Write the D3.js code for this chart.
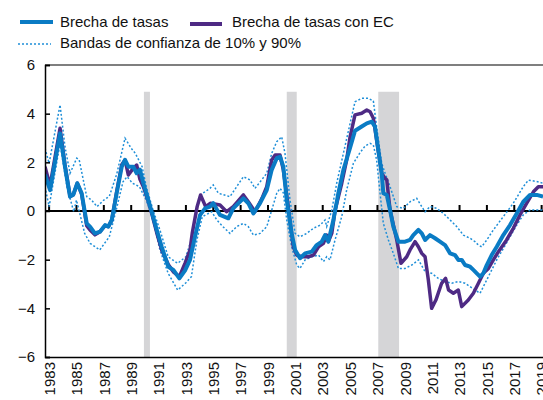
<!DOCTYPE html>
<html>
<head>
<meta charset="utf-8">
<script src="https://cdn.jsdelivr.net/npm/d3@7"></script>
<style>
  body { margin: 0; background: #fff; }
  text { font-family: "Liberation Sans", Arial, sans-serif; }
</style>
</head>
<body>
<div id="chart"></div>
<script>
// [year, value] pairs
let brecha = [[1982.7,1.5],[1983.07,0.86],[1983.8,3.19],[1984.16,1.82],[1984.53,0.59],[1984.77,0.67],[1985.06,1.14],[1985.38,0.73],[1985.75,-0.51],[1985.99,-0.64],[1986.35,-0.92],[1986.72,-0.85],[1987.09,-0.58],[1987.33,-0.64],[1987.58,-0.37],[1987.94,0.73],[1988.31,1.82],[1988.55,2.1],[1988.79,1.82],[1989.15,1.82],[1989.4,1.55],[1989.64,1.7],[1989.89,1.14],[1990.25,0.45],[1990.5,-0.03],[1990.87,-0.78],[1991.23,-1.47],[1991.71,-2.29],[1992.08,-2.42],[1992.52,-2.77],[1992.93,-2.45],[1993.3,-2.01],[1993.66,-1.06],[1994.03,-0.17],[1994.4,0.11],[1994.76,0.18],[1995.0,0.32],[1995.49,-0.16],[1996.1,-0.3],[1996.46,0.11],[1997.2,0.52],[1997.56,0.32],[1997.93,-0.1],[1998.42,0.32],[1998.91,0.86],[1999.27,1.69],[1999.64,2.17],[1999.88,2.23],[2000.12,1.82],[2000.37,0.45],[2000.73,-0.92],[2000.98,-1.6],[2001.34,-1.94],[2001.71,-1.74],[2002.2,-1.67],[2002.56,-1.4],[2002.93,-1.26],[2003.17,-0.99],[2003.41,-1.26],[2003.78,-0.37],[2004.14,0.73],[2004.51,1.69],[2005.0,2.6],[2005.36,3.3],[2005.85,3.47],[2006.22,3.6],[2006.58,3.67],[2006.82,3.47],[2007.06,2.5],[2007.31,1.55],[2007.43,0.73],[2007.68,0.66],[2007.92,0.04],[2008.16,-0.64],[2008.53,-1.26],[2009.02,-1.26],[2009.38,-1.19],[2009.62,-0.99],[2009.99,-0.78],[2010.24,-0.92],[2010.48,-1.19],[2010.84,-0.99],[2011.21,-1.12],[2011.57,-1.26],[2011.94,-1.4],[2012.31,-1.74],[2012.67,-1.81],[2012.91,-2.01],[2013.16,-2.01],[2013.4,-2.22],[2013.77,-2.29],[2014.01,-2.42],[2014.26,-2.56],[2014.5,-2.7],[2014.74,-2.56],[2014.99,-2.22],[2015.35,-1.81],[2015.72,-1.47],[2016.2,-0.99],[2016.69,-0.58],[2017.18,-0.1],[2017.66,0.38],[2018.15,0.66],[2018.64,0.66],[2019.1,0.59]];

let brechaEC = [[1982.7,1.82],[1983.07,1.04],[1983.8,3.4],[1984.16,1.9],[1984.53,0.6],[1984.77,0.67],[1985.06,1.14],[1985.38,0.7],[1985.75,-0.6],[1985.99,-0.78],[1986.35,-0.98],[1986.72,-0.85],[1987.09,-0.6],[1987.33,-0.64],[1987.58,-0.37],[1987.94,0.8],[1988.31,1.9],[1988.55,2.1],[1988.79,1.48],[1989.15,1.75],[1989.4,1.89],[1989.64,1.3],[1989.89,1.0],[1990.25,0.4],[1990.5,-0.1],[1990.87,-0.9],[1991.23,-1.6],[1991.71,-2.2],[1992.08,-2.5],[1992.52,-2.7],[1992.93,-2.15],[1993.3,-1.6],[1993.46,-0.92],[1993.82,0.18],[1994.07,0.66],[1994.44,0.18],[1994.8,0.32],[1995.49,0.25],[1995.98,-0.03],[1996.46,0.18],[1997.2,0.66],[1997.56,0.38],[1998.05,-0.03],[1998.56,0.52],[1998.91,1.0],[1999.27,2.1],[1999.52,2.3],[1999.88,2.3],[2000.12,1.69],[2000.48,0.18],[2000.85,-1.47],[2001.1,-1.81],[2001.46,-1.88],[2001.95,-1.88],[2002.32,-1.81],[2002.69,-1.47],[2003.05,-1.33],[2003.29,-0.99],[2003.41,-1.26],[2003.66,-0.92],[2003.9,0.03],[2004.39,1.14],[2004.75,2.1],[2005.0,3.05],[2005.36,3.95],[2005.85,4.02],[2006.22,4.15],[2006.46,4.08],[2006.7,3.81],[2006.94,2.92],[2007.31,1.55],[2007.56,1.34],[2007.68,1.28],[2007.92,0.04],[2008.41,-1.19],[2008.72,-2.15],[2009.14,-1.88],[2009.38,-1.6],[2009.75,-1.26],[2009.99,-1.47],[2010.24,-1.74],[2010.48,-1.88],[2010.72,-2.84],[2010.96,-4.0],[2011.27,-3.66],[2011.69,-2.97],[2011.98,-2.77],[2012.2,-3.25],[2012.55,-3.38],[2012.91,-3.25],[2013.16,-3.93],[2013.64,-3.66],[2014.01,-3.38],[2014.38,-2.97],[2014.74,-2.56],[2015.11,-2.36],[2015.47,-2.01],[2015.84,-1.67],[2016.44,-1.19],[2016.93,-0.71],[2017.42,-0.16],[2017.91,0.32],[2018.4,0.79],[2018.76,1.0],[2019.1,1.0]];

let bandaSup = [[1982.7,2.58],[1983.0,1.96],[1983.8,4.36],[1984.16,2.64],[1984.53,1.55],[1985.02,2.17],[1985.2,2.1],[1985.75,0.59],[1986.1,0.45],[1986.5,0.18],[1987.0,0.45],[1987.4,0.6],[1987.94,1.51],[1988.55,2.99],[1989.0,2.58],[1989.3,2.37],[1989.8,1.82],[1990.1,1.0],[1990.6,0.03],[1991.1,-0.78],[1991.7,-1.88],[1992.4,-2.15],[1993.0,-1.88],[1993.46,-1.06],[1993.8,0.1],[1994.15,0.7],[1994.4,0.79],[1994.76,0.93],[1995.0,1.07],[1995.37,0.73],[1996.22,0.59],[1996.71,1.0],[1997.2,1.41],[1997.68,1.28],[1998.05,0.93],[1998.54,1.28],[1998.91,1.55],[1999.27,2.37],[1999.64,2.85],[2000.0,3.05],[2000.24,2.37],[2000.61,0.45],[2000.98,-0.92],[2001.34,-1.06],[2001.83,-0.92],[2002.32,-0.71],[2002.81,-0.58],[2003.17,-0.37],[2003.29,-0.64],[2003.66,0.03],[2004.02,1.14],[2004.51,2.37],[2005.0,3.6],[2005.36,4.49],[2005.85,4.63],[2006.34,4.63],[2006.7,4.52],[2006.94,3.47],[2007.31,1.96],[2007.56,1.55],[2007.92,1.0],[2008.41,0.18],[2008.9,0.11],[2009.38,0.38],[2009.87,0.52],[2010.24,0.18],[2010.48,-0.03],[2010.84,0.18],[2011.33,0.11],[2011.82,-0.1],[2012.31,-0.37],[2012.79,-0.64],[2013.28,-0.99],[2013.77,-1.12],[2014.13,-1.26],[2014.38,-1.4],[2014.62,-1.47],[2014.99,-1.19],[2015.47,-0.78],[2016.2,-0.23],[2016.93,0.32],[2017.66,1.0],[2018.03,1.27],[2018.64,1.21],[2019.1,1.14]];

let bandaInf = [[1982.7,1.0],[1983.0,0.18],[1983.8,2.78],[1984.3,1.0],[1984.8,-0.03],[1985.0,0.45],[1985.6,-0.92],[1986.0,-1.33],[1986.7,-1.6],[1987.4,-1.06],[1987.9,0.03],[1988.4,1.2],[1988.7,1.41],[1989.1,1.14],[1989.6,1.0],[1990.1,0.45],[1990.6,-0.37],[1991.1,-1.6],[1991.7,-2.56],[1992.4,-3.25],[1993.0,-2.95],[1993.4,-2.7],[1993.8,-1.2],[1994.2,-0.23],[1994.89,-0.03],[1995.26,-0.37],[1995.7,-0.64],[1996.22,-0.92],[1996.71,-0.64],[1997.2,-0.51],[1997.56,-0.64],[1997.93,-0.99],[1998.42,-0.92],[1998.91,-0.64],[1999.27,0.03],[1999.64,0.73],[1999.88,0.93],[2000.12,0.75],[2000.37,-0.37],[2000.73,-1.47],[2001.1,-2.22],[2001.34,-2.36],[2001.71,-2.01],[2002.2,-1.88],[2002.69,-1.81],[2003.05,-2.08],[2003.29,-1.88],[2003.53,-2.01],[2003.9,-1.19],[2004.39,-0.23],[2004.75,0.86],[2005.24,1.96],[2005.73,2.4],[2006.1,2.67],[2006.46,2.78],[2006.7,2.71],[2006.94,2.1],[2007.19,0.73],[2007.43,-0.51],[2007.8,-1.19],[2008.16,-1.74],[2008.53,-2.36],[2009.02,-2.36],[2009.51,-2.22],[2010.0,-2.01],[2010.48,-2.49],[2010.96,-2.56],[2011.45,-2.77],[2011.94,-2.9],[2012.43,-2.97],[2012.91,-2.9],[2013.4,-2.97],[2013.77,-3.11],[2014.13,-3.25],[2014.5,-3.38],[2014.74,-3.11],[2015.23,-2.56],[2015.72,-2.01],[2016.2,-1.54],[2016.69,-1.06],[2017.18,-0.58],[2017.66,-0.16],[2018.15,0.04],[2019.1,0.04]];

let recesiones = [[1989.93, 1990.37], [2000.37, 2001.1], [2007.06, 2008.58]];
let anios = d3.range(1983, 2020, 2);
let yTicks = [-6, -4, -2, 0, 2, 4, 6];

let width = 543, height = 400;
let svg = d3.select('#chart').append('svg').attr('width', width).attr('height', height);

let x = d3.scaleLinear().domain([1982.7, 2019.1]).range([45, 543]);
let y = d3.scaleLinear().domain([-6, 6]).range([357, 65]);

// recession shading
svg.selectAll('rect.rec').data(recesiones).enter().append('rect')
  .attr('x', d => x(d[0]))
  .attr('width', d => x(d[1]) - x(d[0]))
  .attr('y', y(4.9))
  .attr('height', y(-6) - y(4.9))
  .attr('fill', '#d5d5d7');

// frame top
svg.append('line').attr('x1', 45).attr('x2', 543).attr('y1', y(6)).attr('y2', y(6))
  .attr('stroke', '#555').attr('stroke-width', 1.5);

// zero line with ticks
svg.append('line').attr('x1', 45).attr('x2', 543).attr('y1', y(0)).attr('y2', y(0))
  .attr('stroke', '#000').attr('stroke-width', 2);
svg.selectAll('line.zt').data(anios).enter().append('line')
  .attr('x1', d => x(d)).attr('x2', d => x(d))
  .attr('y1', y(0)).attr('y2', y(0) - 6)
  .attr('stroke', '#000').attr('stroke-width', 2);

let line = d3.line().x(d => x(d[0])).y(d => y(d[1]));

let clip = svg.append('clipPath').attr('id', 'clip').append('rect')
  .attr('x', 45).attr('y', 0).attr('width', 498).attr('height', 400);

let g = svg.append('g').attr('clip-path', 'url(#clip)');

[bandaSup, bandaInf].forEach(s => {
  g.append('path').datum(s).attr('d', line)
    .attr('fill', 'none').attr('stroke', '#1f8fd8').attr('stroke-width', 1.5)
    .attr('stroke-dasharray', '2,2');
});

g.append('path').datum(brechaEC).attr('d', line)
  .attr('fill', 'none').attr('stroke', '#4e2a84').attr('stroke-width', 3.5)
  .attr('stroke-linejoin', 'round');

g.append('path').datum(brecha).attr('d', line)
  .attr('fill', 'none').attr('stroke', '#0a7bc4').attr('stroke-width', 4)
  .attr('stroke-linejoin', 'round');

// y axis
let yAxis = svg.append('g').attr('transform', 'translate(45,0)')
  .call(d3.axisLeft(y).tickValues(yTicks).tickSize(-5).tickPadding(10));
yAxis.select('.domain').attr('stroke', '#000').attr('stroke-width', 1.5);
yAxis.selectAll('.tick line').attr('stroke', '#000').attr('stroke-width', 1.5);
yAxis.selectAll('text').attr('font-size', 15).attr('fill', '#111')
  .style('font-family', '"Liberation Sans", Arial, sans-serif');

// x axis
let xAxis = svg.append('g').attr('transform', 'translate(0,357)')
  .call(d3.axisBottom(x).tickValues(anios).tickSize(0).tickFormat(d3.format('d')));
xAxis.select('.domain').attr('stroke', '#000').attr('stroke-width', 1.5);
xAxis.selectAll('text')
  .attr('transform', 'rotate(-90)')
  .attr('text-anchor', 'end')
  .attr('x', -5).attr('y', 0).attr('dy', '0.35em')
  .attr('font-size', 15).attr('fill', '#111')
  .style('font-family', '"Liberation Sans", Arial, sans-serif');

// legend
let leg = svg.append('g').style('font-family', '"Liberation Sans", Arial, sans-serif').attr('font-size', 15).attr('fill', '#111');
leg.append('line').attr('x1', 20).attr('x2', 53).attr('y1', 22).attr('y2', 22).attr('stroke', '#0a7bc4').attr('stroke-width', 4);
leg.append('text').attr('x', 60).attr('y', 27).text('Brecha de tasas');
leg.append('line').attr('x1', 190).attr('x2', 222).attr('y1', 24).attr('y2', 24).attr('stroke', '#4e2a84').attr('stroke-width', 4);
leg.append('text').attr('x', 232).attr('y', 27).text('Brecha de tasas con EC');
leg.append('line').attr('x1', 18).attr('x2', 51).attr('y1', 44).attr('y2', 44).attr('stroke', '#1f8fd8').attr('stroke-width', 1.5).attr('stroke-dasharray', '2,2');
leg.append('text').attr('x', 60).attr('y', 48).text('Bandas de confianza de 10% y 90%');
</script>
</body>
</html>
